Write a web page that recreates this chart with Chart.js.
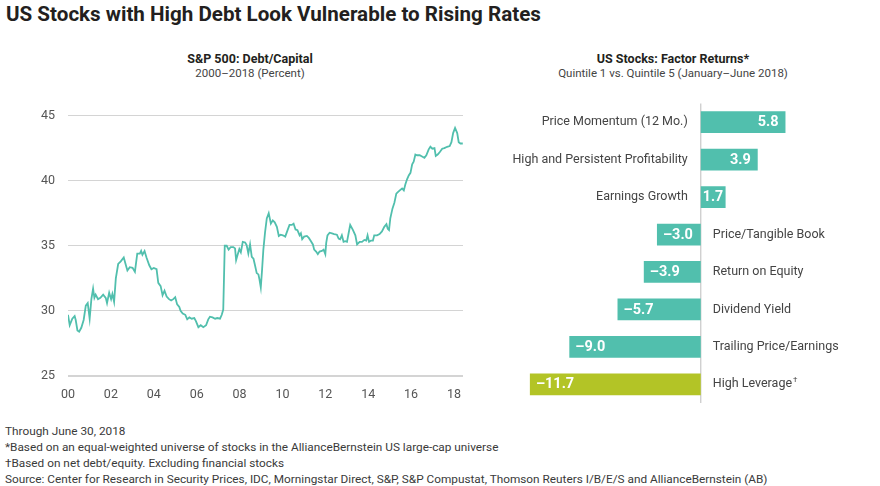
<!DOCTYPE html>
<html>
<head>
<meta charset="utf-8">
<script src="https://cdn.jsdelivr.net/npm/chart.js@4.4.1/dist/chart.umd.min.js"></script>
<style>
  body { margin: 0; width: 880px; height: 486px; background: #fff; position: relative; overflow: hidden;
         font-family: Roboto, "Open Sans", sans-serif; color: #231f20; }
  .abs { position: absolute; }
  #title { left: 6px; top: 2px; font-size: 20.6px; font-weight: 700; white-space: nowrap; }
  .sub { width: 400px; text-align: center; line-height: 15px; }
  .sub b { display: block; font-size: 12.5px; }
  .sub span { display: block; font-size: 11.5px; color: #444; }
  #notes { left: 5px; top: 423px; font-size: 11.8px; line-height: 16px; color: #3a3a3a; white-space: nowrap; }
  canvas { position: absolute; }
</style>
</head>
<body>
<div id="title" class="abs">US Stocks with High Debt Look Vulnerable to Rising Rates</div>
<div class="abs sub" style="left:50px;top:51px"><b>S&amp;P 500: Debt/Capital</b><span>2000–2018 (Percent)</span></div>
<div class="abs sub" style="left:473px;top:51px"><b>US Stocks: Factor Returns*</b><span>Quintile 1 vs. Quintile 5 (January–June 2018)</span></div>

<canvas id="lineChart" width="480" height="320" style="left:0;top:95px"></canvas>
<canvas id="barChart" width="390" height="320" style="left:490px;top:95px"></canvas>

<div id="notes" class="abs">
  Through June 30, 2018<br>
  *Based on an equal-weighted universe of stocks in the AllianceBernstein US large-cap universe<br>
  †Based on net debt/equity. Excluding financial stocks<br>
  Source: Center for Research in Security Prices, IDC, Morningstar Direct, S&amp;P, S&amp;P Compustat, Thomson Reuters I/B/E/S and AllianceBernstein (AB)
</div>

<script>
// S&P 500 debt/capital (decimal years)
const years = [
  2000.00, 2000.08, 2000.20, 2000.31, 2000.36, 2000.44, 2000.52, 2000.62, 2000.73, 2000.83, 2000.92,
  2001.01, 2001.09, 2001.17, 2001.23, 2001.29, 2001.40, 2001.51, 2001.64, 2001.76, 2001.82, 2001.92,
  2002.01, 2002.07, 2002.15, 2002.23, 2002.34, 2002.46, 2002.60, 2002.70, 2002.77, 2002.88,
  2003.01, 2003.12, 2003.23, 2003.35, 2003.41, 2003.47, 2003.57, 2003.66, 2003.79, 2003.89,
  2004.00, 2004.13, 2004.21, 2004.32, 2004.41, 2004.50, 2004.60, 2004.71, 2004.81, 2004.91,
  2005.00, 2005.09, 2005.19, 2005.25, 2005.35, 2005.47, 2005.56, 2005.66, 2005.77, 2005.89, 2005.97,
  2006.08, 2006.19, 2006.31, 2006.44, 2006.54, 2006.62, 2006.74, 2006.86, 2006.96,
  2007.09, 2007.17, 2007.24, 2007.31, 2007.40, 2007.49, 2007.59, 2007.71, 2007.79, 2007.84, 2007.91, 2007.99,
  2008.06, 2008.15, 2008.26, 2008.33, 2008.41, 2008.49, 2008.57, 2008.65, 2008.72, 2008.80, 2008.88, 2008.93, 2008.99,
  2009.05, 2009.11, 2009.19, 2009.27, 2009.36, 2009.46, 2009.55, 2009.64, 2009.74, 2009.83, 2009.92,
  2010.02, 2010.13, 2010.24, 2010.33, 2010.44, 2010.52, 2010.61, 2010.70, 2010.80, 2010.86, 2010.92,
  2011.01, 2011.14, 2011.23, 2011.33, 2011.42, 2011.48, 2011.57, 2011.65, 2011.73, 2011.84, 2011.92,
  2012.00, 2012.04, 2012.10, 2012.20, 2012.31, 2012.41, 2012.54, 2012.62, 2012.69, 2012.77, 2012.85, 2012.93,
  2013.01, 2013.09, 2013.16, 2013.29, 2013.40, 2013.48, 2013.60, 2013.71, 2013.82, 2013.91, 2013.97,
  2014.04, 2014.13, 2014.22, 2014.28, 2014.41, 2014.53, 2014.64, 2014.75, 2014.85, 2014.91, 2014.97,
  2015.03, 2015.13, 2015.22, 2015.31, 2015.37, 2015.47, 2015.58, 2015.66, 2015.73, 2015.81, 2015.89, 2015.97,
  2016.05, 2016.12, 2016.20, 2016.28, 2016.40, 2016.51, 2016.62, 2016.71, 2016.82, 2016.90, 2016.99,
  2017.09, 2017.15, 2017.24, 2017.34, 2017.45, 2017.55, 2017.68, 2017.80, 2017.88, 2017.96,
  2018.05, 2018.15, 2018.22, 2018.30, 2018.41
];
const debtCapital = [
  29.7, 28.9, 29.4, 29.6, 29.3, 28.5, 28.4, 28.7, 29.3, 30.4, 30.6,
  29.4, 30.9, 31.7, 31.0, 31.25, 30.9, 31.0, 31.25, 31.0, 30.6, 31.4,
  30.9, 31.3, 30.7, 32.5, 33.6, 33.8, 34.1, 33.5, 33.1, 33.35,
  33.3, 33.0, 34.4, 34.4, 34.6, 34.3, 34.6, 34.1, 33.5, 33.2,
  33.3, 33.2, 32.15, 31.9, 31.2, 31.55, 31.1, 30.9, 30.8, 30.9,
  31.05, 30.5, 30.3, 30.0, 29.8, 29.7, 29.35, 29.5, 29.4, 29.45, 29.2,
  28.75, 28.9, 28.75, 28.9, 29.35, 29.55, 29.5, 29.4, 29.45,
  29.4, 29.7, 30.1, 35.0, 35.0, 34.7, 34.9, 34.9, 34.8, 33.9, 34.3, 34.75,
  34.5, 35.3, 35.25, 35.05, 34.4, 35.1, 34.15, 34.0, 33.5, 32.9, 32.8, 32.4, 31.8,
  33.15, 34.7, 36.05, 37.1, 37.5, 36.7, 36.95, 36.8, 36.45, 35.75, 35.85,
  35.8, 35.7, 36.2, 36.6, 36.6, 36.7, 36.25, 36.2, 35.8, 35.95, 35.5,
  35.7, 35.75, 35.6, 35.35, 35.1, 34.7, 34.55, 34.35, 34.55, 34.6, 34.7,
  34.35, 35.2, 35.8, 36.0, 35.95, 35.9, 35.85, 35.55, 35.5, 35.8, 35.3, 35.35,
  35.3, 36.0, 36.6, 36.2, 35.8, 35.1, 35.3, 35.3, 35.45, 35.4, 35.8,
  35.3, 35.4, 35.4, 35.8, 35.8, 35.9, 36.1, 36.45, 36.65, 36.3, 36.2,
  37.1, 37.85, 38.3, 39.0, 39.1, 39.25, 39.4, 39.25, 39.7, 40.1, 40.4, 40.6,
  41.25, 41.45, 42.0, 41.95, 41.95, 41.85, 41.75, 41.95, 42.4, 42.6, 42.45,
  42.5, 41.9, 42.0, 42.2, 42.45, 42.5, 42.6, 42.65, 42.95, 43.65,
  44.05, 43.65, 42.95, 42.85, 42.85
];
const yTicks = [25, 30, 35, 40, 45];

// factor returns, quintile 1 vs quintile 5
const factors = [
  "Price Momentum (12 Mo.)", "High and Persistent Profitability", "Earnings Growth",
  "Price/Tangible Book", "Return on Equity", "Dividend Yield", "Trailing Price/Earnings", "High Leverage"
];
const factorReturns = [5.8, 3.9, 1.7, -3.0, -3.9, -5.7, -9.0, -11.7];
const footnoted = ["High Leverage"];

const TEAL = "#51bfad";
const LIME = "#b3c426";
const FONT = "Roboto, 'Open Sans', sans-serif";

new Chart(document.getElementById("lineChart"), {
  type: "line",
  data: {
    datasets: [{
      data: years.map((yr, i) => ({ x: yr, y: debtCapital[i] })),
      borderColor: TEAL,
      borderWidth: 1.8,
      pointRadius: 0,
      tension: 0,
      fill: false,
    }],
  },
  options: {
    responsive: false,
    animation: false,
    layout: { padding: { top: 17, right: 17, left: 0, bottom: 0 } },
    plugins: { legend: { display: false }, tooltip: { enabled: false } },
    scales: {
      x: {
        type: "linear",
        min: 2000,
        max: 2018.42,
        grid: { display: false, drawTicks: false },
        border: { display: false },
        ticks: {
          stepSize: 2,
          includeBounds: false,
          autoSkip: false,
          maxRotation: 0,
          padding: 11,
          color: "#555",
          font: { family: FONT, size: 12.5 },
          callback: (v) => String(v).slice(2),
        },
        afterFit: (s) => { s.height = 39; },
      },
      y: {
        min: yTicks[0],
        max: yTicks[yTicks.length - 1],
        afterBuildTicks: (s) => { s.ticks = yTicks.map((v) => ({ value: v })); },
        ticks: { padding: 13, color: "#555", font: { family: FONT, size: 12.5 } },
        grid: {
          color: "#d4d4d4",
          drawTicks: false,
          lineWidth: (c) => (c.tick && c.tick.value === 25 ? 2 : 1),
        },
        border: { display: false },
        afterFit: (s) => { s.width = 68; },
      },
    },
  },
});

const barLabels = {
  id: "barLabels",
  beforeDatasetsDraw(chart) {
    const { ctx, chartArea, scales } = chart;
    const x0 = scales.x.getPixelForValue(0);
    ctx.save();
    ctx.strokeStyle = "#c8c8c8";
    ctx.lineWidth = 1.2;
    ctx.beginPath();
    ctx.moveTo(x0, chartArea.top);
    ctx.lineTo(x0, chartArea.bottom);
    ctx.stroke();
    ctx.restore();
  },
  afterDatasetsDraw(chart) {
    const { ctx, scales } = chart;
    const x0 = scales.x.getPixelForValue(0);
    const meta = chart.getDatasetMeta(0);
    ctx.save();
    ctx.textBaseline = "middle";
    meta.data.forEach((bar, i) => {
      const v = factorReturns[i];
      const txt = (v < 0 ? "\u2013" : "") + Math.abs(v).toFixed(1);
      const barW = Math.abs(bar.x - bar.base);
      ctx.fillStyle = "#fff";
      ctx.font = "700 14.5px " + FONT;
      const tw = ctx.measureText(txt).width;
      // short bars: squeeze the number inside the bar
      const pad = Math.max(2.5, Math.min(7, (barW - tw) / 2));
      const maxW = barW - pad - 2;
      if (v >= 0) {
        ctx.textAlign = "right";
        ctx.fillText(txt, bar.x - pad, bar.y + 0.5, maxW);
      } else {
        ctx.textAlign = "left";
        ctx.fillText(txt, bar.x + 6, bar.y + 0.5);
      }
      ctx.fillStyle = "#444";
      ctx.font = "12.5px " + FONT;
      const name = factors[i];
      if (v >= 0) {
        ctx.textAlign = "right";
        ctx.fillText(name, x0 - 13, bar.y);
      } else {
        ctx.textAlign = "left";
        ctx.fillText(name, x0 + 12, bar.y);
        if (footnoted.includes(name)) {
          const w = ctx.measureText(name).width;
          ctx.font = "8px " + FONT;
          ctx.fillText("\u2020", x0 + 12 + w + 1, bar.y - 4);
        }
      }
    });
    ctx.restore();
  },
};

new Chart(document.getElementById("barChart"), {
  type: "bar",
  data: {
    labels: factors,
    datasets: [{
      data: factorReturns,
      backgroundColor: factors.map((f) => (footnoted.includes(f) ? LIME : TEAL)),
      barPercentage: 0.58,
      categoryPercentage: 1,
    }],
  },
  options: {
    indexAxis: "y",
    responsive: false,
    animation: false,
    layout: { padding: { left: 35.5, right: 77, top: 8.5, bottom: 12 } },
    plugins: { legend: { display: false }, tooltip: { enabled: false } },
    scales: {
      x: { display: false, min: -12, max: 7 },
      y: { display: false },
    },
  },
  plugins: [barLabels],
});
</script>
</body>
</html>
